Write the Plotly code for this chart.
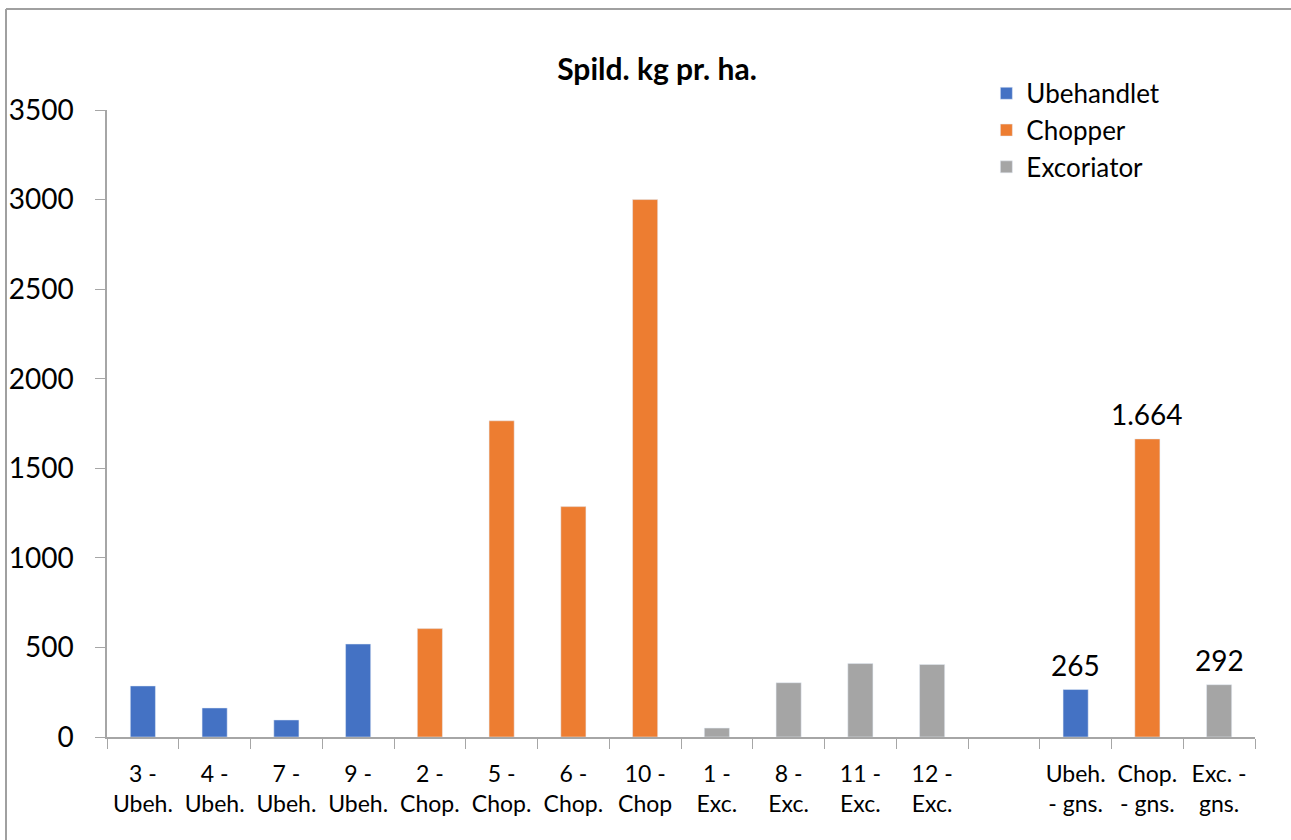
import plotly.graph_objects as go

# Category labels along the x axis (one blank slot separates the averages)
categories = [
    "3 -<br>Ubeh.", "4 -<br>Ubeh.", "7 -<br>Ubeh.", "9 -<br>Ubeh.",
    "2 -<br>Chop.", "5 -<br>Chop.", "6 -<br>Chop.", "10 -<br>Chop",
    "1 -<br>Exc.", "8 -<br>Exc.", "11 -<br>Exc.", "12 -<br>Exc.",
    " ",
    "Ubeh.<br>- gns.", "Chop.<br>- gns.", "Exc. -<br>gns.",
]

ubeh_x = ["3 -<br>Ubeh.", "4 -<br>Ubeh.", "7 -<br>Ubeh.", "9 -<br>Ubeh.", "Ubeh.<br>- gns."]
ubeh_y = [285, 162, 95, 519, 265]

chop_x = ["2 -<br>Chop.", "5 -<br>Chop.", "6 -<br>Chop.", "10 -<br>Chop", "Chop.<br>- gns."]
chop_y = [605, 1765, 1286, 3000, 1664]

exc_x = ["1 -<br>Exc.", "8 -<br>Exc.", "11 -<br>Exc.", "12 -<br>Exc.", "Exc. -<br>gns."]
exc_y = [50, 303, 410, 405, 292]

y_ticks = [0, 500, 1000, 1500, 2000, 2500, 3000, 3500]

FONT = "Lato, 'Open Sans', sans-serif"

fig = go.Figure()
annotations = []
for name, xs, ys, color in [
    ("Ubehandlet", ubeh_x, ubeh_y, "#4472C4"),
    ("Chopper", chop_x, chop_y, "#ED7D31"),
    ("Excoriator", exc_x, exc_y, "#A5A5A5"),
]:
    fig.add_trace(go.Bar(
        x=xs, y=ys, name=name, marker_color=color, width=0.35,
    ))
    # Only the averages carry a value label (Danish thousands separator)
    for x, v in zip(xs, ys):
        if "gns" in x:
            annotations.append(dict(
                x=x, y=v, xref="x", yref="y", showarrow=False,
                text=f"{v:,}".replace(",", "."), yanchor="middle", yshift=25,
                font=dict(size=28, family=FONT, color="#000000"),
            ))

fig.update_layout(
    width=1291, height=840,
    margin=dict(l=107, r=36, t=110, b=103),
    paper_bgcolor="white", plot_bgcolor="white",
    barmode="overlay",
    font=dict(family=FONT, color="#000000"),
    title=dict(
        text="<b>Spild. kg pr. ha.</b>",
        x=657 / 1291, xanchor="center", y=1 - 69 / 840, yanchor="middle",
        font=dict(size=30, family=FONT, color="#000000"),
    ),
    legend=dict(
        x=0.766, y=1.064, xanchor="left", yanchor="top",
        font=dict(size=26, family=FONT),
        bgcolor="rgba(0,0,0,0)", itemwidth=30, tracegroupgap=0,
    ),
    annotations=annotations,
    xaxis=dict(
        type="category", categoryorder="array", categoryarray=categories,
        showline=True, linecolor="#A6A6A6", linewidth=1.5,
        ticks="outside", tickson="boundaries", ticklen=10, tickcolor="#A6A6A6",
        tickfont=dict(size=23, family=FONT), showgrid=False,
        tickangle=0, automargin=False, ticklabelstandoff=16,
        range=[-0.5, len(categories) - 0.5],
    ),
    yaxis=dict(
        range=[0, 3500], tickvals=y_ticks,
        showline=True, linecolor="#A6A6A6", linewidth=1.5,
        ticks="outside", ticklen=10, tickcolor="#A6A6A6",
        tickfont=dict(size=28, family=FONT), showgrid=False, zeroline=False,
        automargin=False, ticklabelstandoff=16,
    ),
    shapes=[
        dict(type="line", xref="paper", yref="paper",
             x0=(6 - 107) / 1148, x1=1.2, y0=(737 - 9) / 627, y1=(737 - 9) / 627,
             line=dict(color="#A0A0A0", width=2)),
        dict(type="line", xref="paper", yref="paper",
             x0=(6 - 107) / 1148, x1=(6 - 107) / 1148, y0=(737 - 9) / 627, y1=-0.3,
             line=dict(color="#A0A0A0", width=2)),
    ],
)

fig.write_html("out.html")
